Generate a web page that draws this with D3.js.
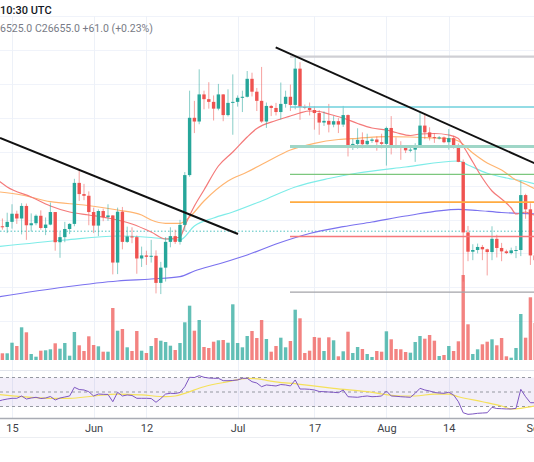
<!DOCTYPE html>
<html><head><meta charset="utf-8">
<script src="https://cdn.jsdelivr.net/npm/d3@7"></script>
<style>html,body{margin:0;padding:0;background:#fff;overflow:hidden}svg{display:block}text{font-family:Roboto,"Noto Sans",sans-serif}</style>
</head><body>
<svg id="c" width="534" height="462"></svg>
<script>
// ---------- DATA ----------
const dates = ["2023-05-12","2023-05-13","2023-05-14","2023-05-15","2023-05-16","2023-05-17","2023-05-18","2023-05-19","2023-05-20","2023-05-21","2023-05-22","2023-05-23","2023-05-24","2023-05-25","2023-05-26","2023-05-27","2023-05-28","2023-05-29","2023-05-30","2023-05-31",
"2023-06-01","2023-06-02","2023-06-03","2023-06-04","2023-06-05","2023-06-06","2023-06-07","2023-06-08","2023-06-09","2023-06-10","2023-06-11","2023-06-12","2023-06-13","2023-06-14","2023-06-15","2023-06-16","2023-06-17","2023-06-18","2023-06-19","2023-06-20","2023-06-21","2023-06-22","2023-06-23","2023-06-24","2023-06-25","2023-06-26","2023-06-27","2023-06-28","2023-06-29","2023-06-30",
"2023-07-01","2023-07-02","2023-07-03","2023-07-04","2023-07-05","2023-07-06","2023-07-07","2023-07-08","2023-07-09","2023-07-10","2023-07-11","2023-07-12","2023-07-13","2023-07-14","2023-07-15","2023-07-16","2023-07-17","2023-07-18","2023-07-19","2023-07-20","2023-07-21","2023-07-22","2023-07-23","2023-07-24","2023-07-25","2023-07-26","2023-07-27","2023-07-28","2023-07-29","2023-07-30","2023-07-31",
"2023-08-01","2023-08-02","2023-08-03","2023-08-04","2023-08-05","2023-08-06","2023-08-07","2023-08-08","2023-08-09","2023-08-10","2023-08-11","2023-08-12","2023-08-13","2023-08-14","2023-08-15","2023-08-16","2023-08-17","2023-08-18","2023-08-19","2023-08-20","2023-08-21","2023-08-22","2023-08-23","2023-08-24","2023-08-25","2023-08-26","2023-08-27","2023-08-28","2023-08-29","2023-08-30","2023-08-31","2023-09-01"];

const opens = [26980,26800,26780,26930,27170,27030,27400,26830,26890,27110,26750,26850,27220,26330,26480,26720,26870,28080,27750,27700,
27220,26820,27250,27070,27120,25730,27230,26340,26500,26480,25850,25940,25900,25930,25130,25580,26340,26510,26340,26840,28310,30000,29890,30690,30550,30470,30270,30690,30080,30440,
30470,30590,30620,31150,30770,30500,29890,30350,30290,30170,30410,30620,30380,31450,30320,30290,30230,30140,29860,29910,29800,29900,29800,30080,29180,29230,29350,29220,29320,29360,29280,
29230,29700,29180,29170,29110,29040,29060,29180,29770,29570,29430,29400,29420,29280,29400,29170,28700,26620,26050,26100,26190,26120,26040,26430,26160,26060,26010,26090,26100,27720,27300,25940];
const highs = [27050,27030,27200,27450,27260,27480,27470,27180,27150,27270,27060,27500,27220,26630,26930,26890,28200,28440,28050,27830,
27350,27300,27320,27450,27130,27350,27370,26790,26770,26530,26200,26080,26400,26090,25750,26480,26770,26700,26990,28400,30800,30500,31430,30800,31050,30660,31000,30700,30840,31280,
30660,30800,31380,31330,30880,31500,30450,30380,30440,31040,30800,30980,31820,31640,30390,30450,30340,30230,30190,30410,30050,29990,30350,30100,29380,29690,29570,29530,29410,29450,29530,
29740,30050,29420,29310,29110,29170,29250,30180,30130,29720,29540,29460,29450,29670,29470,29240,28770,26810,26270,26290,26250,26140,26800,26550,26310,26110,26170,26220,28140,27760,27480,26120];
const lows = [25800,26700,26600,26730,26870,26560,26400,26650,26830,26700,26540,26830,26080,25870,26330,26570,26800,27550,27570,26830,
26600,26510,26950,26960,25380,25390,26120,26310,26300,25400,25600,25660,25730,24820,24800,25170,26180,26280,26260,26660,28260,29550,29810,30250,30270,29920,30220,29900,30040,29500,
30330,30170,30600,30630,30200,29850,29700,30050,30070,29950,30300,30200,30250,29940,30250,30070,29650,29500,29760,29570,29720,29550,29730,28860,29050,29090,29100,29120,29260,29030,29100,
28590,28920,29100,28760,28960,28980,28700,29110,29370,29330,29260,29360,29250,29060,29090,28690,25170,25770,25800,26000,25800,25350,25800,25880,25770,25980,25970,25860,25920,27020,25660,25330];
const closes = [26800,26780,26930,27170,27030,27400,26830,26890,27110,26750,26850,27220,26330,26480,26720,26870,28080,27750,27700,27220,
26820,27250,27070,27120,25730,27230,26340,26500,26480,25850,25940,25900,25930,25130,25580,26340,26510,26340,26840,28310,30000,29890,30690,30550,30470,30270,30690,30080,30440,30470,
30590,30620,31150,30770,30500,29890,30350,30290,30170,30410,30620,30380,31450,30320,30290,30230,30140,29860,29910,29800,29900,29800,30080,29180,29230,29350,29220,29320,29360,29280,29230,
29700,29180,29170,29110,29040,29060,29180,29770,29570,29430,29400,29420,29280,29400,29170,28700,26620,26050,26100,26190,26120,26040,26430,26160,26060,26010,26090,26100,27720,27300,25940,25800];
// volume (relative units)
const volumes = [10,6.7,6.7,17.3,14,32.7,27.7,6,3.3,9.3,9.7,10.7,16.7,11.3,17,4.3,28,14.7,9,23.7,
15,13.7,8.3,8.3,52,29.3,31,12.7,9,29,9.3,7,14,22,19.3,18,14.3,10,17,37.7,54.3,29.3,40,13,12,18.3,19.7,20,17.3,55.7,
17,12.7,24,29,22,40,21,8.3,14,22.3,12.7,19,50.3,41.7,7,9.3,23,22.3,9,22.7,19.7,3.7,8.7,28.3,7,13,11,6,3,9,8.3,
28.7,20.7,11,10.7,8,7.3,18,24,21.3,25,19.3,4,5,14,9,18.7,85,35.7,6,10.7,15.7,18.3,20.7,14.7,22,3.7,2.3,12,46,22.3,62.7,37];
// RSI (14) and its moving average
const rsiValues = [37,39,40.3,41.3,41.3,44.5,40.3,41.7,42.7,41,41.7,43.8,39,41.7,43.1,44.5,56.5,53.4,52.8,50.4,
44.5,47.2,46.8,46.6,36.6,49.6,44.5,45.9,45.2,41.3,41.3,41.3,41,35.8,41,47.2,48.2,47.9,49.3,57.3,70.3,70,72.5,70.3,69.3,68.9,68.9,65.6,65.6,65.9,
66.6,68.9,68.9,64.2,62.4,57.3,59.7,59,58.3,60.3,59.7,58.3,66.6,54.1,54.1,53.7,52.8,50.7,50.4,50,49.6,49,52.8,43.5,43.1,42.7,43.8,44.5,43.5,43.8,44.5,
51.4,44.5,44.1,43.5,43.1,42.7,48.2,55.1,52.8,51.4,49.3,48.6,48.2,49.6,45.9,36.6,21.4,19.2,19.7,20.6,21,21.4,28.9,27.2,27,26.6,26.6,27.5,53.7,43.5,35.2,35.2];
const rsiMaDates = ["2023-05-12","2023-05-19","2023-05-23","2023-05-27","2023-06-01","2023-06-06","2023-06-11","2023-06-16","2023-06-18","2023-06-20","2023-06-24","2023-06-29","2023-07-03","2023-07-06","2023-07-07","2023-07-14","2023-07-21","2023-07-28","2023-08-04","2023-08-07","2023-08-11","2023-08-14","2023-08-16","2023-08-21","2023-08-25","2023-08-27","2023-08-29","2023-09-01"];
const rsiMaValues = [46.8,42.7,41.3,41.3,44.5,47.2,45.9,43.5,44.5,48.2,57.3,64.2,68.9,67.5,66.1,60.6,55.1,50.4,44.5,44.5,47.2,47.2,43.5,36.6,30.7,26.6,27.5,30.7];

// moving averages
const maRedDates = ["2023-05-12","2023-05-14","2023-05-19","2023-05-23","2023-05-27","2023-05-31","2023-06-04","2023-06-09","2023-06-13","2023-06-16","2023-06-18","2023-06-19","2023-06-20","2023-06-22","2023-06-24","2023-06-27","2023-06-30","2023-07-03","2023-07-05","2023-07-09","2023-07-12","2023-07-14","2023-07-16","2023-07-18","2023-07-20","2023-07-23","2023-07-26","2023-07-29","2023-08-01","2023-08-03","2023-08-06","2023-08-08","2023-08-11","2023-08-14","2023-08-16","2023-08-17","2023-08-19","2023-08-21","2023-08-23","2023-08-25","2023-08-27","2023-08-28","2023-08-29","2023-08-30","2023-08-31","2023-09-01"];
const maRedValues = [28165,27959,27664,27398,27221,27133,27044,26867,26631,26425,26454,26484,26808,27398,27870,28578,28991,29434,29684,29920,30053,30142,30201,30186,30112,29994,29832,29699,29640,29566,29478,29522,29537,29493,29389,29168,28696,28224,27841,27605,27339,27162,27192,27221,27162,27133];
const maOrangeDates = ["2023-05-12","2023-05-17","2023-05-23","2023-05-30","2023-06-06","2023-06-11","2023-06-13","2023-06-16","2023-06-19","2023-06-21","2023-06-24","2023-06-29","2023-07-03","2023-07-07","2023-07-12","2023-07-17","2023-07-22","2023-07-26","2023-08-01","2023-08-06","2023-08-11","2023-08-14","2023-08-16","2023-08-19","2023-08-22","2023-08-25","2023-08-28","2023-08-29","2023-09-01"];
const maOrangeValues = [27820,27723,27525,27428,27280,27133,26985,26888,26888,27074,27546,28136,28401,28696,29050,29248,29360,29395,29442,29434,29404,29389,29316,28962,28667,28460,28165,28106,27900];
const maCyanDates = ["2023-05-12","2023-05-26","2023-06-06","2023-06-13","2023-06-19","2023-06-22","2023-06-26","2023-06-30","2023-07-06","2023-07-13","2023-07-20","2023-07-26","2023-08-05","2023-08-16","2023-08-18","2023-08-22","2023-08-26","2023-08-29","2023-09-01"];
const maCyanValues = [26198,26395,26513,26469,26395,26808,27044,27221,27546,27959,28209,28372,28549,28726,28608,28363,28224,28150,28047];
const maBlueDates = ["2023-05-12","2023-05-26","2023-06-06","2023-06-13","2023-06-19","2023-06-22","2023-06-27","2023-07-03","2023-07-09","2023-07-16","2023-07-23","2023-07-29","2023-08-05","2023-08-16","2023-08-20","2023-08-25","2023-08-29","2023-09-01"];
const maBlueValues = [24714,25009,25186,25245,25313,25481,25687,25953,26277,26587,26788,26926,27103,27301,27265,27206,27177,27162];

// drawings
const trendA = [["2023-05-12T12:00:00Z",29404],["2023-07-01T02:00:00Z",26572]];
const trendB = [["2023-07-08T22:30:00Z",32080],["2023-09-02T00:00:00Z",28588]];
const fibStart = "2023-07-11T22:00:00Z", fibEnd = "2023-09-05T00:00:00Z";
const fibLow = 24860, fibHigh = 31805;
const fibLevels = [0,0.236,0.382,0.5,0.618,0.786,1];
const fibColors = ["#a3a3a8","#f5797c","#ffab40","#7cc77e","#9fd6c7","#6fd0dc","#cfcfd4"];
const fibWidths = [1.3,1.3,1.6,1.3,3,1.3,2.2];
const lastPrice = 26655;
const priceGrid = [24000,25000,26000,27000,28000,29000,30000,31000,32000,33000];
const tickDates = ["2023-05-15","2023-06-01","2023-06-12","2023-07-01","2023-07-17","2023-08-01","2023-08-14","2023-09-01"];
const tickLabels = ["15","Jun","12","Jul","17","Aug","14","Sep"];

// ---------- CHART ----------
const svg = d3.select("#c");
const P = s => new Date(s.length === 10 ? s + "T00:00:00Z" : s);
const x = d3.scaleUtc().domain([P("2023-05-15"), P("2023-09-01")]).range([12, 535.2]);
const y = d3.scaleLinear().domain([24000, 33000]).range([321.2, 16.1]);
const yVol = d3.scaleLinear().domain([0, 100]).range([360, 260]);
const yRsi = d3.scaleLinear().domain([30, 70]).range([406.5, 377.5]);
const UP = "#26a69a", DN = "#ef5350";
const bw = 3.4;

const bars = dates.map((d, i) => ({date: P(d), o: opens[i], h: highs[i], l: lows[i], c: closes[i], v: volumes[i], rsi: rsiValues[i]}));

svg.append("defs").append("clipPath").attr("id", "main").append("rect").attr("x", 0).attr("y", 16).attr("width", 534).attr("height", 354);
svg.select("defs").append("clipPath").attr("id", "rsi").append("rect").attr("x", 0).attr("y", 371).attr("width", 534).attr("height", 46);

// grid
const grid = svg.append("g");
grid.selectAll(".hg").data(priceGrid).join("line").attr("x1", 0).attr("x2", 534)
  .attr("y1", d => Math.round(y(d)) + 0.5).attr("y2", d => Math.round(y(d)) + 0.5).attr("stroke", "#f0f3fa").attr("stroke-width", 1);
grid.selectAll(".vg").data(tickDates).join("line").attr("y1", 16).attr("y2", 418)
  .attr("x1", d => Math.round(x(P(d))) + 0.5).attr("x2", d => Math.round(x(P(d))) + 0.5).attr("stroke", "#edf1f8").attr("stroke-width", 1);

// separators
svg.append("line").attr("x1", 0).attr("x2", 534).attr("y1", 370.5).attr("y2", 370.5).attr("stroke", "#e0e3eb");
svg.append("line").attr("x1", 0).attr("x2", 534).attr("y1", 437.5).attr("y2", 437.5).attr("stroke", "#eceef2");

const main = svg.append("g").attr("clip-path", "url(#main)");

// volume
main.selectAll(".vol").data(bars).join("rect")
  .attr("x", d => x(d.date) - bw / 2).attr("width", bw)
  .attr("y", d => yVol(d.v)).attr("height", d => yVol(0) - yVol(d.v))
  .attr("fill", d => d.c >= d.o ? UP : DN).attr("fill-opacity", 0.72);

// price line
main.append("line").attr("x1", 0).attr("x2", 534).attr("y1", y(lastPrice)).attr("y2", y(lastPrice))
  .attr("stroke", "#4fc3c0").attr("stroke-width", 1).attr("stroke-dasharray", "1.5,2");

// moving averages
const maLine = d3.line().x(d => x(d[0])).y(d => y(d[1])).curve(d3.curveMonotoneX);
const mas = [[maBlueDates, maBlueValues, "#7b72ef"], [maCyanDates, maCyanValues, "#7eece8"], [maOrangeDates, maOrangeValues, "#ffb571"], [maRedDates, maRedValues, "#f47a7a"]];
mas.forEach(([ds, vs, col]) => {
  main.append("path").datum(ds.map((d, i) => [P(d), vs[i]])).attr("d", maLine)
    .attr("fill", "none").attr("stroke", col).attr("stroke-width", 1.2);
});

// candles
const cg = main.selectAll(".cd").data(bars).join("g");
cg.append("line").attr("x1", d => x(d.date)).attr("x2", d => x(d.date))
  .attr("y1", d => y(d.h)).attr("y2", d => y(d.l))
  .attr("stroke", d => d.c >= d.o ? UP : DN).attr("stroke-width", 1).attr("stroke-opacity", 0.55);
cg.append("rect").attr("x", d => x(d.date) - bw / 2).attr("width", bw)
  .attr("y", d => y(Math.max(d.o, d.c))).attr("height", d => Math.max(1, Math.abs(y(d.o) - y(d.c))))
  .attr("fill", d => d.c >= d.o ? UP : DN);

// fib levels
main.selectAll(".fib").data(fibLevels).join("line")
  .attr("x1", x(P(fibStart))).attr("x2", x(P(fibEnd)))
  .attr("y1", d => y(fibLow + (fibHigh - fibLow) * d)).attr("y2", d => y(fibLow + (fibHigh - fibLow) * d))
  .attr("stroke", (d, i) => fibColors[i]).attr("stroke-width", (d, i) => fibWidths[i]);

// trendlines
[trendA, trendB].forEach(t => {
  main.append("line").attr("x1", x(P(t[0][0]))).attr("y1", y(t[0][1]))
    .attr("x2", x(P(t[1][0]))).attr("y2", y(t[1][1]))
    .attr("stroke", "#111").attr("stroke-width", 2);
});

// RSI pane
const rsiG = svg.append("g").attr("clip-path", "url(#rsi)");
rsiG.append("rect").attr("x", 0).attr("width", 534).attr("y", yRsi(70)).attr("height", yRsi(30) - yRsi(70)).attr("fill", "#7e57c2").attr("fill-opacity", 0.1);
rsiG.selectAll(".rl").data([70, 50, 30]).join("line").attr("x1", 0).attr("x2", 534)
  .attr("y1", d => yRsi(d)).attr("y2", d => yRsi(d)).attr("stroke", "#9598a1").attr("stroke-dasharray", "3,3").attr("stroke-width", 1);
rsiG.append("path").datum(rsiMaDates.map((d, i) => [P(d), rsiMaValues[i]]))
  .attr("d", d3.line().x(d => x(d[0])).y(d => yRsi(d[1])).curve(d3.curveMonotoneX))
  .attr("fill", "none").attr("stroke", "#f5e15a").attr("stroke-width", 1.2);
rsiG.append("path").datum(bars).attr("d", d3.line().x(d => x(d.date)).y(d => yRsi(d.rsi)))
  .attr("fill", "none").attr("stroke", "#7e57c2").attr("stroke-width", 1);

// x axis
svg.append("line").attr("x1", 0).attr("x2", 534).attr("y1", 418.5).attr("y2", 418.5).attr("stroke", "#a9acb4").attr("stroke-width", 1.5);
const ax = svg.append("g").attr("transform", "translate(0,419)")
  .call(d3.axisBottom(x).tickValues(tickDates.map(P)).tickSize(0).tickPadding(5).tickFormat((d, i) => tickLabels[i]));
ax.select(".domain").remove();
ax.selectAll("text").attr("font-size", 11).attr("fill", "#3d3f47").attr("font-family", "Roboto, sans-serif");

// header legend
svg.append("text").attr("x", 0).attr("y", 14).attr("font-size", 11).attr("fill", "#131722").attr("font-weight", 500).text("10:30 UTC");
const leg = svg.append("text").attr("x", 0).attr("y", 32).attr("font-size", 10.5).attr("fill", "#787b86");
leg.append("tspan").text("6525.0  ");
leg.append("tspan").text("C26655.0  ");
leg.append("tspan").text("+61.0 (+0.23%)");
</script>
</body></html>
